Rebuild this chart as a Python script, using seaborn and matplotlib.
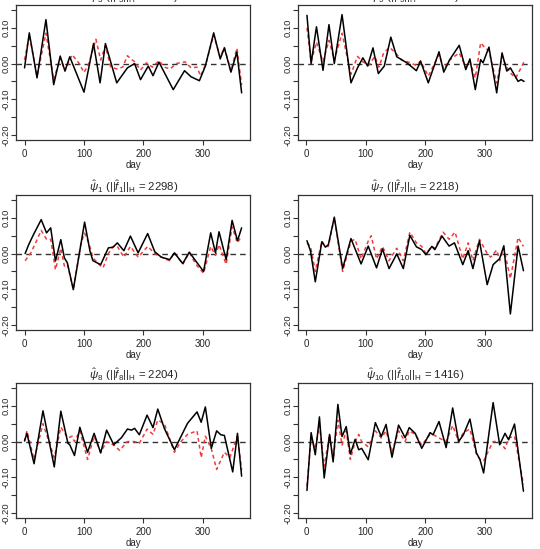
import matplotlib
matplotlib.use('Agg')
import matplotlib.pyplot as plt
import seaborn as sns
import pandas as pd

# ---- data (day, loading) ----
titles = [
    r'$\hat{\psi}_3$ ($||\hat{f}_3||_\mathrm{H}$ = 2871)',
    r'$\hat{\psi}_5$ ($||\hat{f}_5||_\mathrm{H}$ = 2533)',
    r'$\hat{\psi}_1$ ($||\hat{f}_1||_\mathrm{H}$ = 2298)',
    r'$\hat{\psi}_7$ ($||\hat{f}_7||_\mathrm{H}$ = 2218)',
    r'$\hat{\psi}_8$ ($||\hat{f}_8||_\mathrm{H}$ = 2204)',
    r'$\hat{\psi}_{10}$ ($||\hat{f}_{10}||_\mathrm{H}$ = 1416)',
]

# panel 1 (top left)
p1_day = [0, 8, 21, 36, 49, 60, 68, 76, 100, 116, 127, 136, 155, 173, 185, 195, 208, 216, 226,
          250, 269, 280, 294, 304, 318, 329, 336, 347, 357, 365]
p1_black = [-0.012, 0.086, -0.040, 0.123, -0.059, 0.021, -0.021, 0.019, -0.080, 0.056, -0.054, 0.056,
            -0.054, -0.012, 0.0, -0.045, -0.007, -0.034, 0.004, -0.073, -0.020, -0.037, -0.048, -0.007,
            0.086, 0.013, 0.044, -0.024, 0.032, -0.082]
p1_rday = [0, 8, 21, 36, 49, 60, 68, 80, 92, 100, 108, 120, 128, 136, 145, 155, 165, 173, 185, 195,
           205, 215, 226, 235, 245, 255, 270, 280, 290, 296, 305, 318, 329, 336, 347, 357, 365]
p1_red = [0.010, 0.080, -0.035, 0.085, -0.045, 0.015, -0.020, 0.025, 0.0, -0.025, 0.0, 0.068, 0.010,
          0.050, -0.010, -0.015, -0.010, 0.022, 0.005, -0.018, 0.002, -0.010, 0.008, -0.010, -0.015,
          0.0, 0.005, -0.012, -0.010, -0.035, 0.0, 0.080, 0.018, 0.045, -0.020, 0.043, -0.060]

# panel 2 (top right)
p2_day = [1, 8, 17, 28, 38, 47, 60, 75, 86, 95, 103, 112, 121, 131, 142, 152, 169, 185, 192, 205,
          223, 231, 241, 257, 268, 275, 284, 293, 297, 307, 320, 329, 337, 343, 356, 361, 366]
p2_black = [0.135, 0.0, 0.103, -0.019, 0.109, 0.0, 0.137, -0.054, -0.012, 0.016, -0.007, 0.044,
            -0.028, -0.007, 0.074, 0.019, 0.002, -0.020, 0.007, -0.054, 0.033, -0.024, 0.011, 0.051,
            -0.017, 0.013, -0.073, 0.011, 0.002, 0.046, -0.082, 0.030, -0.021, -0.012, -0.050,
            -0.045, -0.050]
p2_rday = [1, 8, 17, 28, 38, 47, 60, 75, 86, 95, 105, 115, 122, 130, 140, 150, 160, 170, 185, 192,
           205, 223, 231, 241, 257, 268, 275, 284, 293, 300, 307, 320, 329, 337, 345, 352, 360, 366]
p2_red = [0.100, 0.005, 0.060, 0.005, 0.065, 0.010, 0.085, -0.030, 0.020, 0.005, -0.005, 0.020,
          -0.010, 0.030, 0.045, 0.030, 0.010, 0.005, -0.005, 0.007, -0.035, 0.025, -0.015, 0.010,
          0.030, -0.010, 0.005, -0.040, 0.058, 0.045, 0.035, -0.055, 0.020, -0.010, -0.030, -0.040,
          -0.015, 0.005]

# panel 3: psi_1
p3_day = [1, 7, 15, 28, 37, 44, 52, 61, 67, 72, 82, 101, 110, 115, 128, 141, 149, 156, 167, 178,
          191, 207, 219, 230, 244, 252, 266, 277, 288, 301, 313, 321, 327, 339, 349, 358, 365]
p3_black = [0.0, 0.025, 0.053, 0.095, 0.058, 0.072, -0.021, 0.039, -0.012, -0.026, -0.101, 0.088,
            0.007, -0.020, -0.031, 0.016, 0.018, 0.030, 0.008, 0.049, 0.002, 0.056, 0.005, -0.010,
            -0.017, 0.002, -0.028, 0.004, -0.021, -0.050, 0.058, 0.002, 0.061, -0.017, 0.093,
            0.036, 0.072]
p3_rday = [1, 10, 20, 28, 37, 44, 52, 61, 67, 72, 82, 95, 101, 108, 115, 125, 132, 141, 149, 156,
           167, 178, 191, 207, 219, 230, 244, 252, 266, 277, 288, 301, 313, 321, 327, 339, 349,
           358, 365]
p3_red = [-0.020, 0.0, 0.035, 0.065, 0.040, 0.040, -0.045, 0.015, -0.035, -0.030, -0.100, 0.030,
          0.057, 0.030, -0.012, -0.030, -0.040, 0.0, 0.020, 0.020, -0.010, 0.020, -0.010, 0.020, 0.0,
          -0.010, -0.020, 0.003, -0.030, 0.003, -0.030, -0.055, 0.020, -0.005, 0.025, -0.030,
          0.075, 0.030, 0.050]

# panel 4: psi_7
p4_day = [1, 7, 15, 26, 32, 37, 47, 61, 75, 92, 104, 118, 128, 139, 152, 163, 174, 185, 194, 201,
          211, 216, 228, 240, 249, 263, 272, 280, 291, 304, 314, 325, 332, 343, 356, 365]
p4_black = [0.036, 0.007, -0.079, 0.033, 0.018, 0.025, 0.102, -0.042, 0.042, -0.029, 0.021, -0.040,
            0.013, -0.042, -0.001, -0.042, 0.051, 0.019, 0.011, -0.003, 0.020, 0.011, 0.049, 0.021,
            0.030, -0.031, 0.008, -0.042, 0.036, -0.087, -0.031, -0.014, 0.022, -0.169, 0.021,
            -0.048]
p4_rday = [1, 7, 15, 26, 32, 37, 47, 61, 75, 82, 92, 104, 109, 118, 128, 139, 152, 163, 174, 185,
           194, 201, 211, 216, 230, 240, 250, 263, 272, 280, 291, 304, 310, 320, 325, 332, 343,
           356, 365]
p4_red = [0.030, 0.020, -0.050, 0.035, 0.020, 0.020, 0.100, -0.050, 0.035, 0.040, -0.015, 0.035,
          0.050, -0.015, 0.020, -0.020, 0.015, -0.020, 0.060, 0.030, 0.020, 0.0, 0.020, 0.015, 0.060,
          0.040, 0.060, -0.015, 0.030, -0.020, 0.040, 0.0, -0.010, 0.010, -0.020, 0.015, -0.070,
          0.045, 0.020]

# panel 5: psi_8
p5_day = [0, 4, 16, 31, 50, 61, 73, 76, 84, 93, 106, 117, 128, 138, 150, 163, 173, 180, 185, 193,
          206, 216, 224, 235, 252, 263, 274, 290, 297, 304, 314, 323, 330, 336, 350, 358, 365]
p5_black = [0.002, 0.023, -0.062, 0.086, -0.071, 0.085, -0.005, -0.009, -0.039, 0.040, -0.030,
            0.023, -0.032, 0.032, -0.009, 0.011, 0.035, 0.032, 0.037, 0.019, 0.074, 0.039, 0.091,
            0.037, -0.023, 0.014, 0.051, 0.083, 0.054, 0.097, -0.019, 0.030, 0.019, 0.017, -0.085,
            0.023, -0.097]
p5_rday = [0, 4, 16, 31, 50, 61, 73, 80, 84, 93, 106, 117, 128, 138, 150, 160, 165, 173, 185, 193,
           206, 216, 224, 235, 252, 263, 274, 290, 297, 304, 314, 323, 336, 345, 358, 365]
p5_red = [0.0, 0.030, -0.050, 0.050, -0.045, 0.040, 0.010, 0.015, 0.0, 0.030, -0.050, 0.015,
          -0.030, 0.0, -0.010, -0.025, -0.015, 0.0, 0.0, -0.005, 0.035, 0.020, 0.060, 0.050, -0.030,
          0.0, 0.020, 0.030, -0.045, 0.015, -0.020, -0.078, -0.030, -0.045, 0.015, -0.080]

# panel 6: psi_10
p6_day = [1, 8, 15, 22, 30, 39, 45, 53, 60, 67, 74, 82, 88, 93, 104, 116, 126, 134, 144, 155, 166,
          173, 183, 194, 208, 213, 223, 235, 246, 256, 264, 275, 286, 292, 298, 314, 325, 334, 340,
          350, 365]
p6_black = [-0.137, 0.025, -0.037, 0.069, -0.102, 0.020, -0.057, 0.104, 0.014, 0.042, -0.035, 0.006,
            -0.023, -0.019, -0.051, 0.053, 0.014, 0.048, -0.044, 0.046, 0.011, 0.039, 0.023, -0.019,
            0.025, 0.019, 0.056, -0.017, 0.094, 0.0, 0.019, 0.063, -0.032, -0.051, -0.088, 0.109,
            -0.009, 0.023, 0.005, 0.049, -0.139]
p6_rday = [1, 8, 15, 22, 30, 39, 45, 53, 60, 67, 74, 82, 88, 93, 104, 116, 126, 134, 144, 155, 166,
           173, 183, 194, 208, 213, 223, 235, 246, 256, 264, 275, 286, 292, 298, 305, 314, 325, 334,
           340, 350, 365]
p6_red = [-0.125, 0.010, -0.020, 0.045, -0.070, 0.020, -0.050, 0.060, -0.010, 0.030, -0.050, 0.0,
          0.020, 0.0, -0.015, 0.030, 0.010, 0.030, -0.030, 0.030, 0.0, 0.030, 0.020, -0.010, 0.020,
          0.020, 0.010, 0.0, 0.045, 0.0, 0.025, 0.035, -0.035, -0.050, -0.055, -0.030, 0.0, 0.0,
          -0.020, 0.010, 0.015, -0.120]

panels = [
    (p1_day, p1_black, p1_rday, p1_red),
    (p2_day, p2_black, p2_rday, p2_red),
    (p3_day, p3_black, p3_rday, p3_red),
    (p4_day, p4_black, p4_rday, p4_red),
    (p5_day, p5_black, p5_rday, p5_red),
    (p6_day, p6_black, p6_rday, p6_red),
]

x_ticks = [0, 100, 200, 300]
y_ticks = [-0.20, -0.15, -0.10, -0.05, 0.00, 0.05, 0.10, 0.15]
y_labels = ['-0.20', '', '-0.10', '', '0.00', '', '0.10', '']

sns.set_style('white')
plt.rcParams['font.family'] = ['Liberation Sans', 'DejaVu Sans']
plt.rcParams['mathtext.fontset'] = 'custom'
plt.rcParams['mathtext.rm'] = 'Liberation Sans'
plt.rcParams['mathtext.it'] = 'Liberation Sans:italic'
plt.rcParams['mathtext.bf'] = 'Liberation Sans:bold'
plt.rcParams['axes.unicode_minus'] = False

fig = plt.figure(figsize=(5.4, 5.49), dpi=100)

# axes boxes (left, bottom) in figure fraction
col_x = [0.0305, 0.5524]
row_y = [0.7450, 0.3989, 0.0565]
w, h = 0.4330, 0.2459

for i, (bd, bv, rd, rv) in enumerate(panels):
    ax = fig.add_axes([col_x[i % 2], row_y[i // 2], w, h])
    black = pd.DataFrame({'day': bd, 'value': bv})
    red = pd.DataFrame({'day': rd, 'value': rv})

    ax.axhline(0, color='#333333', lw=1.0, ls=(0, (4, 3)), zorder=1)
    sns.lineplot(data=red, x='day', y='value', ax=ax, color='#f03c3c',
                 lw=1.1, ls=(0, (2.5, 2)), zorder=2)
    sns.lineplot(data=black, x='day', y='value', ax=ax, color='black', lw=1.1, zorder=3)

    ax.set_xlim(-13.56, 379.56)
    ax.set_ylim(-0.214, 0.164)
    ax.set_xticks(x_ticks)
    ax.set_xticklabels([str(t) for t in x_ticks])
    ax.set_yticks(y_ticks)
    ax.set_yticklabels(y_labels, rotation=90, va='center')
    ax.tick_params(direction='out', length=3.5, width=0.8, labelsize=6.8, pad=0.5,
                   color='#333333', left=True, bottom=True)
    ax.tick_params(axis='x', pad=3, labelsize=7)
    ax.set_xlabel('day', fontsize=7, labelpad=1)
    ax.set_ylabel('')
    for s in ax.spines.values():
        s.set_visible(True)
        s.set_color('#333333')
        s.set_linewidth(0.9)
    ax.set_title(titles[i], fontsize=8.2, pad=3)

fig.savefig('out.png', dpi=100)
